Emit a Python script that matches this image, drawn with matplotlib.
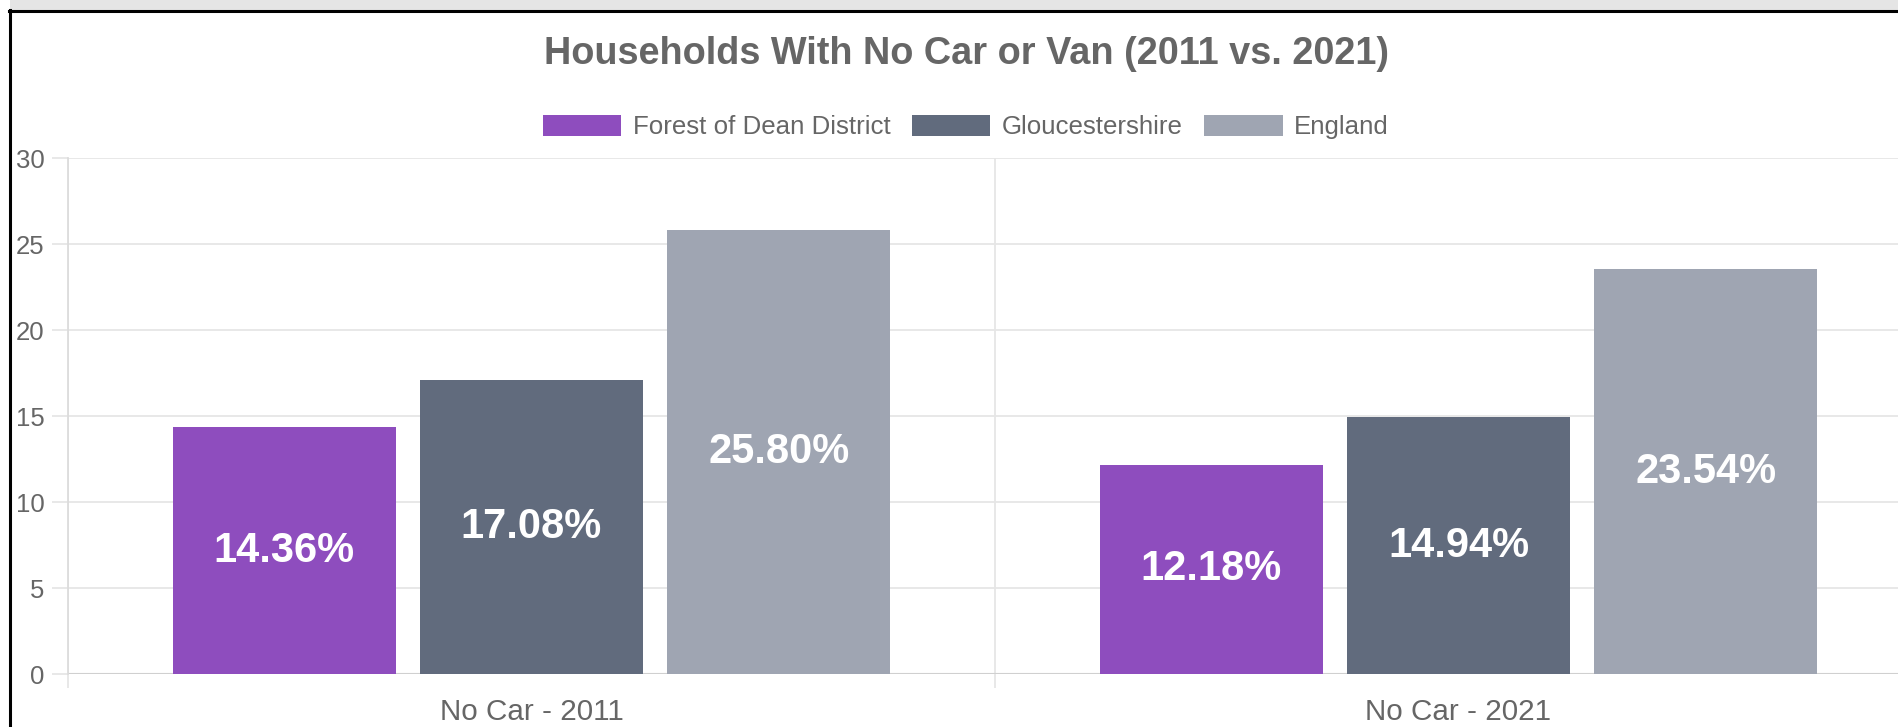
import matplotlib
matplotlib.use("Agg")
import matplotlib.pyplot as plt
import numpy as np
from matplotlib.patches import Rectangle
from matplotlib.lines import Line2D

plt.rcParams['font.family'] = ['Liberation Sans', 'DejaVu Sans']

categories = ["No Car - 2011", "No Car - 2021"]
series_names = ["Forest of Dean District", "Gloucestershire", "England"]
forest = [14.36, 12.18]
glos = [17.08, 14.94]
england = [25.80, 23.54]
series_values = [forest, glos, england]
colors = ["#8e4dbe", "#616b7d", "#9fa5b2"]
yticks = [0, 5, 10, 15, 20, 25, 30]

W, H = 1898, 727
fig = plt.figure(figsize=(W / 100, H / 100), dpi=100)
fig.patch.set_facecolor("white")

# screenshot frame
fig.patches.append(Rectangle((10 / W, 1 - 10 / H), 1, 10 / H, transform=fig.transFigure,
                             facecolor="#e5e5e5", edgecolor="none", zorder=0))
fig.lines.append(Line2D([9 / W, 1], [1 - 10.5 / H, 1 - 10.5 / H], transform=fig.transFigure,
                        color="black", lw=2.2))
fig.lines.append(Line2D([9.5 / W, 9.5 / W], [0, 1 - 10 / H], transform=fig.transFigure,
                        color="black", lw=2.2))

left, right, top, bottom = 68, 1922, 158, 674
ax = fig.add_axes([left / W, 1 - bottom / H, (right - left) / W, (bottom - top) / H])
ax.set_facecolor("none")

n = len(series_names)
slot = 0.8 / n
bw = slot * 0.9
x = np.arange(len(categories)) + 0.5
grid_c = "#e6e6e6"
text_c = "#666666"

for i, (name, vals, c) in enumerate(zip(series_names, series_values, colors)):
    pos = x + (i - (n - 1) / 2) * slot
    bars = ax.bar(pos, vals, width=bw, color=c, label=name, zorder=3)
    ax.bar_label(bars, labels=[f"{v:.2f}%" for v in vals], label_type="center",
                 color="white", fontweight="bold", fontsize=30)

ax.set_xlim(0, len(categories))
ax.set_ylim(0, 30)
ax.set_yticks(yticks)
ax.set_yticklabels([str(t) for t in yticks])
ax.set_xticks(x)
ax.set_xticklabels(categories)
ax.set_xticks(np.arange(len(categories) + 1), minor=True)

ax.yaxis.grid(True, color=grid_c, lw=1.3, zorder=0)
ax.xaxis.grid(True, which="minor", color=grid_c, lw=1.3, zorder=0)
ax.xaxis.grid(False, which="major")
ax.axhline(0, color="#d0d0d0", lw=1.5, zorder=2)

ax.tick_params(axis="y", length=11.5, width=1.3, color=grid_c, pad=5.5,
               labelsize=18.5, labelcolor=text_c)
ax.tick_params(axis="x", which="major", length=0, pad=17.5, labelsize=21.3, labelcolor=text_c)
ax.tick_params(axis="x", which="minor", length=10, width=1.3, color=grid_c)

for s in ["top", "right", "bottom"]:
    ax.spines[s].set_visible(False)
ax.spines["left"].set_color("#dcdcdc")
ax.spines["left"].set_linewidth(1.3)

fig.text(966 / W, 1 - 54 / H, "Households With No Car or Van (2011 vs. 2021)",
         ha="center", va="center", fontsize=27.3, fontweight="bold", color=text_c)

handles, labels = ax.get_legend_handles_labels()
leg = fig.legend(handles, labels, loc="center", bbox_to_anchor=(966 / W, 1 - 127 / H),
                 ncol=3, frameon=False, fontsize=18.6, handlelength=3.03, handleheight=0.9,
                 handletextpad=0.45, columnspacing=0.83, borderaxespad=0, borderpad=0)
for t in leg.get_texts():
    t.set_color(text_c)

fig.savefig("out.png", dpi=100)
